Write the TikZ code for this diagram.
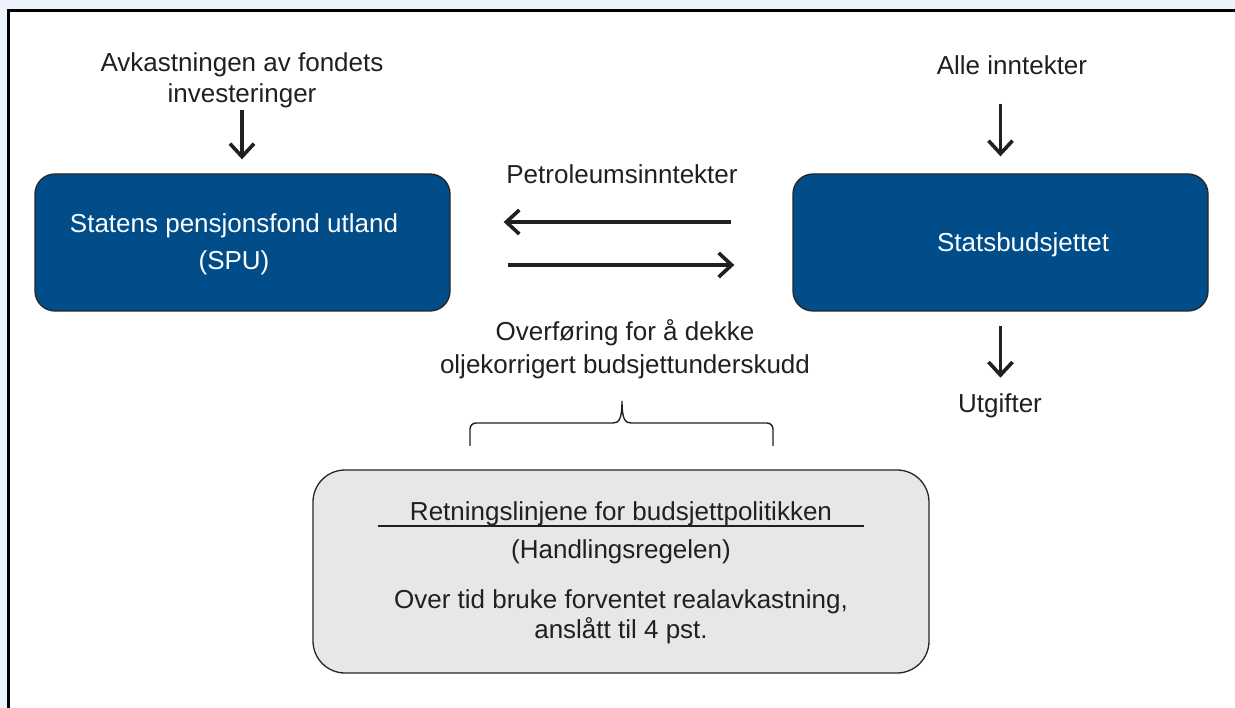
\documentclass[tikz,border=0pt]{standalone}
\usepackage{fontspec}
\setmainfont{Liberation Sans}
\usepackage{xcolor}
\usepackage{tikz}
\usetikzlibrary{
  arrows.meta,
  positioning
}
\definecolor{FundBlue}{RGB}{0, 77, 138}
\definecolor{PageTint}{RGB}{238, 243, 251}
\definecolor{RuleGray}{RGB}{230, 231, 232}
\definecolor{InkGray}{RGB}{35, 31, 32}

\begin{document}
\begin{tikzpicture}[x=1pt, y=-1pt,
    bluebox/.style={rectangle, fill=FundBlue, draw=black!85, line width=1.3pt,
        rounded corners=20pt, minimum width=415pt, minimum height=137pt},
    greybox/.style={rectangle, fill=RuleGray, draw=black!85, line width=1.3pt,
        rounded corners=32pt, minimum width=616pt, minimum height=203pt},
    plain/.style={font=\fontsize{26}{31}\selectfont, text=InkGray, align=center, inner sep=0pt},
    boxtext/.style={font=\fontsize{26}{37}\selectfont, text=white, align=center, inner sep=0pt},
    flow/.style={draw=InkGray, line width=3.6pt, -{Straight Barb[length=13pt,width=24pt]}},
    brace/.style={draw=InkGray, line width=1.4pt}]
    % page and frame
    \useasboundingbox (0,0) rectangle (1235,708);
    \clip (0,0) rectangle (1235,708);
    \fill[PageTint] (0,0) rectangle (1235,708);
    \draw[fill=white, line width=3pt] (8,11) rectangle (1260,730);

    % the two main boxes
    \node[bluebox] (spu) at (242.5,242.5) {};
    \node[boxtext] (spulbl) at (234,244) {Statens pensjonsfond utland\\(SPU)};
    \node[bluebox] (sb) at (1000.5,242.5) {};
    \node[boxtext] (sblbl) at (1023,245) {Statsbudsjettet};

    % texts around them
    \node[plain] (avk) at (242,80) {Avkastningen av fondets\\investeringer};
    \node[plain] (alle) at (1012,65) {Alle inntekter};
    \node[plain] (petro) at (622,174) {Petroleumsinntekter};
    \node[plain, font=\fontsize{26}{33}\selectfont] (overf) at (625,349.5)
        {Overføring for å dekke\\oljekorrigert budsjettunderskudd};
    \node[plain] (utg) at (1000,406) {Utgifter};

    % arrows
    \draw[flow, shorten <=2pt, shorten >=14pt] (avk.south) -- (avk.south |- spu.north);
    \draw[flow, shorten <=29pt, shorten >=17pt] (alle.south -| sb.north) -- (sb.north);
    \draw[flow, shorten <=14pt, shorten >=16pt] (sb.south) -- (sb.south |- utg.north);
    \draw[flow, shorten <=61pt, shorten >=53pt] ([yshift=20.5pt]sb.west) -- ([yshift=20.5pt]spu.east);
    \draw[flow, shorten <=57pt, shorten >=58pt] ([yshift=-22.5pt]spu.east) -- ([yshift=-22.5pt]sb.west);

    % brace
    \draw[brace] (470,446) [rounded corners=6pt] -- (470,423) -- (560,423) [sharp corners] -- (613,423)
        .. controls (619,423) and (622,419) .. (622,401)
        .. controls (622,419) and (625,423) .. (631,423) [rounded corners=6pt] -- (773,423) -- (773,446);

    % the rule
    \node[greybox] (regel) at (621,571.5) {};
    \node[plain, anchor=base, minimum width=486pt] (retn) at (621,520) {Retningslinjene for budsjettpolitikken};
    \draw[InkGray, line width=2pt] (retn.south west) -- (retn.south east);
    \node[plain] (hregel) at (621,552) {(Handlingsregelen)};
    \node[plain, font=\fontsize{26}{30}\selectfont] (bruk) at (621,617)
        {Over tid bruke forventet realavkastning,\\anslått til 4 pst.};
\end{tikzpicture}
\end{document}
